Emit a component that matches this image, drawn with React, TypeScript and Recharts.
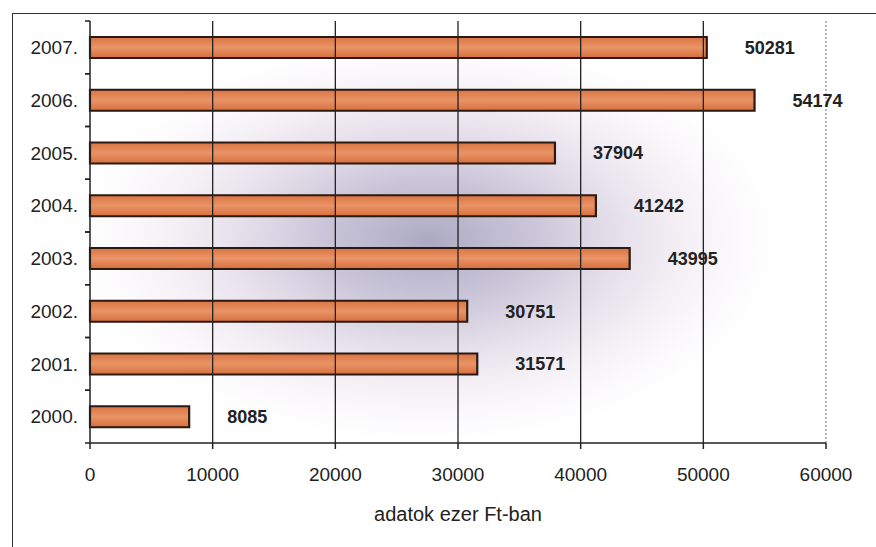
import React from 'react';
import {
  BarChart,
  Bar,
  XAxis,
  YAxis,
  CartesianGrid,
  ReferenceLine,
  LabelList,
} from 'recharts';

const years = ['2007.', '2006.', '2005.', '2004.', '2003.', '2002.', '2001.', '2000.'];
const values = [50281, 54174, 37904, 41242, 43995, 30751, 31571, 8085];
const xTicks = [0, 10000, 20000, 30000, 40000, 50000, 60000];
const gridValues = [10000, 20000, 30000, 40000, 50000];
const axisTitle = 'adatok ezer Ft-ban';

const data = years.map((y, i) => ({ year: y, value: values[i] }));

const FONT = '"Liberation Sans", Arial, sans-serif';
const TICK_MARGIN = 12;

function YearTick(props: any) {
  const { x, y, payload } = props;
  const half = payload && typeof payload.offset === 'number' ? payload.offset : 0;
  const ax = x + TICK_MARGIN;
  return (
    <g>
      {half > 0 && (
        <>
          <line x1={ax - 5} x2={ax} y1={y - half} y2={y - half} stroke="#222" strokeWidth={1.5} />
          <line x1={ax - 5} x2={ax} y1={y + half} y2={y + half} stroke="#222" strokeWidth={1.5} />
        </>
      )}
      <text
        x={x}
        y={y}
        dy="0.355em"
        textAnchor="end"
        fill="#222"
        fontSize={19}
        fontFamily={FONT}
      >
        {payload.value}
      </text>
    </g>
  );
}

export default function App() {
  return (
    <div
      style={{
        position: 'absolute',
        left: 0,
        top: 0,
        width: 876,
        height: 547,
        background: '#fff',
        overflow: 'hidden',
        fontFamily: FONT,
      }}
    >
      <div
        style={{
          position: 'absolute',
          left: 12,
          top: 13,
          width: 880,
          height: 540,
          borderLeft: '1.5px solid #333',
          borderTop: '1.5px solid #333',
        }}
      />
      <div style={{ position: 'absolute', left: 0, top: 0 }}>
        <BarChart
          width={876}
          height={547}
          data={data}
          layout="vertical"
          margin={{ top: 21, right: 50, bottom: 22, left: 0 }}
        >
          <defs>
            <radialGradient id="bgGlow" cx="0.46" cy="0.52" r="0.5">
              <stop offset="0" stopColor="#9d9bb8" stopOpacity={0.85} />
              <stop offset="0.3" stopColor="#b5aec9" stopOpacity={0.7} />
              <stop offset="0.6" stopColor="#d6cadd" stopOpacity={0.45} />
              <stop offset="0.85" stopColor="#eee5ef" stopOpacity={0.2} />
              <stop offset="1" stopColor="#ffffff" stopOpacity={0} />
            </radialGradient>
            <linearGradient id="barFill" x1="0" y1="0" x2="0" y2="1">
              <stop offset="0" stopColor="#db7443" />
              <stop offset="0.5" stopColor="#e99466" />
              <stop offset="1" stopColor="#d76e3e" />
            </linearGradient>
          </defs>
          <CartesianGrid
            horizontal={false}
            vertical={false}
            fill="url(#bgGlow)"
          />
          <XAxis
            xAxisId="top"
            orientation="top"
            type="number"
            domain={[0, 60000]}
            height={0}
            tick={false}
            tickLine={false}
            axisLine={{ stroke: '#222', strokeWidth: 1.5 }}
          />
          <XAxis
            type="number"
            domain={[0, 60000]}
            ticks={xTicks}
            interval={0}
            height={82}
            tickSize={6}
            tickMargin={19}
            axisLine={{ stroke: '#222', strokeWidth: 1.5 }}
            tickLine={{ stroke: '#222', strokeWidth: 1.5 }}
            tick={{ fill: '#222', fontSize: 19, fontFamily: FONT }}
            label={{
              value: axisTitle,
              position: 'insideBottom',
              offset: 4,
              fill: '#222',
              fontSize: 20,
              fontFamily: FONT,
            }}
          />
          <YAxis
            type="category"
            dataKey="year"
            width={90}
            tickSize={0}
            tickMargin={TICK_MARGIN}
            tickLine={false}
            axisLine={{ stroke: '#222', strokeWidth: 1.5 }}
            tick={<YearTick />}
          />
          {gridValues.map((v) => (
            <ReferenceLine key={v} x={v} stroke="#222" strokeWidth={1.3} />
          ))}
          <ReferenceLine
            x={60000}
            stroke="#8a8a9a"
            strokeWidth={1.2}
            strokeDasharray="2 2"
          />
          <Bar
            dataKey="value"
            barSize={21}
            fill="url(#barFill)"
            stroke="#2a1a12"
            strokeWidth={2.2}
            isAnimationActive={false}
          >
            <LabelList
              dataKey="value"
              position="right"
              offset={38}
              fill="#222"
              fontSize={18}
              fontWeight="bold"
              fontFamily={FONT}
            />
          </Bar>
        </BarChart>
      </div>
    </div>
  );
}
